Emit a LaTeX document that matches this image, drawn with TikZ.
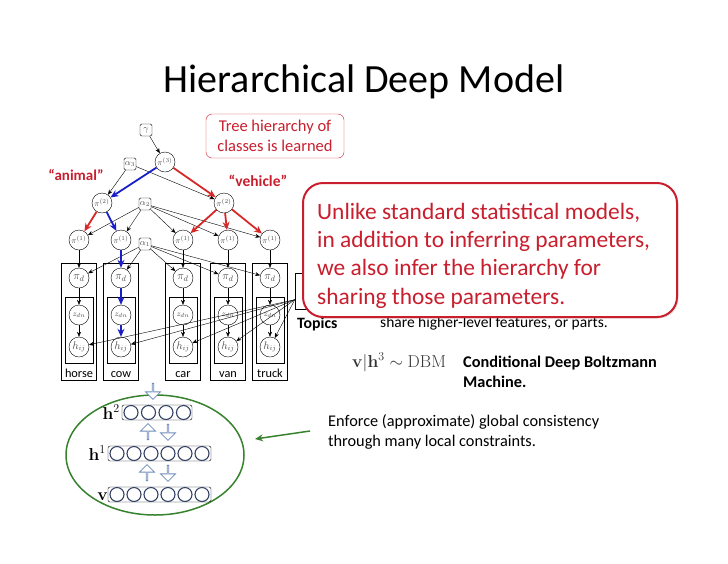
\documentclass[tikz,border=0pt]{standalone}
\usepackage[no-math]{fontspec}
\setmainfont{Carlito}
\usetikzlibrary{shapes.arrows,shapes.geometric,arrows.meta,shadows}
\definecolor{hred}{RGB}{200,30,45}
\definecolor{eblue}{RGB}{25,30,200}
\definecolor{ered}{RGB}{215,40,40}
\definecolor{dgreen}{RGB}{55,130,45}
\definecolor{dbmc}{RGB}{50,65,100}
\definecolor{arrc}{RGB}{110,140,185}
\tikzset{
  var/.style={circle,draw,thin,minimum size=20pt,inner sep=0pt,font=\fontsize{8.5}{8.5}\selectfont,text=black!70},
  parbox/.style={rectangle,draw,rounded corners=1.5pt,minimum size=12pt,inner sep=0.5pt,font=\fontsize{9}{9}\selectfont,text=black!70},
  edge/.style={-{Stealth[length=5pt,width=4pt]},thin},
  redge/.style={-{Stealth[length=8pt,width=7pt]},line width=1.8pt,ered},
  bedge/.style={-{Stealth[length=8pt,width=7pt]},line width=1.8pt,eblue},
  plate/.style={draw,thin,rectangle,inner sep=0pt},
  lbl/.style={font=\fontsize{12.3}{12.3}\selectfont,anchor=base},
  unit/.style={circle,draw=dbmc,line width=1.1pt,minimum size=14pt,inner sep=0pt},
  layer/.style={draw,rounded corners=2pt,thin,minimum height=15pt,inner sep=0pt},
  barrow/.style={single arrow,draw=arrc,fill=white,line width=0.8pt,minimum height=16pt,minimum width=15pt,single arrow head extend=3.5pt,inner sep=0pt},
  body/.style={font=\fontsize{16.3}{20}\selectfont,anchor=base west,inner sep=0pt}
}
\begin{document}
\begin{tikzpicture}[x=1pt,y=-1pt]
\useasboundingbox (0,0) rectangle (728,563);
% title
\node[anchor=base,font=\fontsize{40}{40}\selectfont] (title) at (364,92) {Hierarchical Deep Model};
% tree hierarchy label
\node[draw=hred,rounded corners=6pt,thin,minimum width=138pt,minimum height=44pt] (treebox) at (275,136) {};
\node[anchor=base,text=hred,font=\fontsize{16.5}{19.5}\selectfont,align=center,inner sep=0pt] (treetxt) at (275,151) {Tree hierarchy of\\classes is learned};
\node[anchor=base,text=hred,font=\bfseries\fontsize{15}{15}\selectfont] (animal) at (76,180) {``animal''};
\node[anchor=base,text=hred,font=\bfseries\fontsize{15.5}{15.5}\selectfont] (vehicle) at (258,186) {``vehicle''};
% tree nodes
\node[parbox] (g) at (146,130) {$\gamma$};
\node[var] (p3) at (165,162) {$\pi^{(3)}$};
\node[parbox] (a3) at (130,164) {$\alpha_3$};
\node[var] (p2a) at (102,203) {$\pi^{(2)}$};
\node[var] (p2b) at (224,203) {$\pi^{(2)}$};
\node[parbox] (a2) at (145,204) {$\alpha_2$};
\node[parbox] (a1) at (145,244) {$\alpha_1$};
\foreach \i/\x/\nm in {1/79/horse,2/121/cow,3/183/car,4/228/van,5/270/truck}{
  \node[var] (p1\i) at (\x,240) {$\pi^{(1)}$};
  \node[plate,minimum width=35pt,minimum height=117pt] (op\i) at (\x,321.5) {};
  \node[plate,minimum width=28pt,minimum height=66pt] (ip\i) at (\x,330) {};
  \node[var,font=\fontsize{11}{11}\selectfont] (pd\i) at (\x,278) {$\pi_d$};
  \node[var] (z\i) at (\x,315) {$z_{dn}$};
  \node[var,font=\fontsize{10.5}{10.5}\selectfont] (h\i) at (\x,347) {$h_{ij}$};
  \node[lbl] (cl\i) at (\x,377) {\nm};
}
% black edges
\draw[edge] (g) -- (p3);
\draw[edge] (a3) -- (p2a);
\draw[edge] (a3) -- (p2b);
\foreach \i in {1,...,5}{
  \draw[edge] (a2) -- (p1\i);
  \draw[edge] (a1) -- (pd\i);
}
\foreach \i in {1,3,4,5}{
  \draw[edge] (p1\i) -- (pd\i);
  \draw[edge] (pd\i) -- (z\i);
  \draw[edge] (z\i) -- (h\i);
}
% coloured edges
\draw[bedge] (p3) -- (p2a);
\draw[redge] (p3) -- (p2b);
\draw[redge] (p2a) -- (p11);
\draw[bedge] (p2a) -- (p12);
\draw[redge] (p2b) -- (p13);
\draw[redge] (p2b) -- (p14);
\draw[redge] (p2b) -- (p15);
\draw[bedge] (p12) -- (pd2);
\draw[bedge] (pd2) -- (z2);
\draw[bedge] (z2) -- (h2);
% topics
\node[plate,minimum width=17pt,minimum height=36pt] (topics) at (303.5,291) {};
\node[anchor=base west,font=\bfseries\fontsize{15.8}{15.8}\selectfont,inner sep=0pt] (topicslbl) at (297,328) {Topics};
\foreach \i in {1,...,5}{
  \draw[edge] (topics.225) -- (h\i);
}
% partially hidden text
\node[body,font=\fontsize{15.5}{15.5}\selectfont] (share) at (380,327) {share higher-level features, or parts.};
% callout
\node[draw=hred,line width=2pt,fill=white,rounded corners=20pt,minimum width=374pt,minimum height=134pt,
      drop shadow={opacity=0.25,shadow xshift=1.5pt,shadow yshift=-1.5pt}] (callout) at (490,250) {};
\node[anchor=base west,text=hred,font=\fontsize{23.4}{28.3}\selectfont,align=left,inner sep=0pt] (callouttxt) at (317,304)
  {Unlike standard statistical models,\\in addition to inferring parameters,\\we also infer the hierarchy for\\sharing those parameters.};
% DBM text
\node[anchor=base west,inner sep=0pt,font=\fontsize{18.8}{18.8}\selectfont,text=black!80] (dbmeq) at (352,367) {$\mathbf{v}|\mathbf{h}^3\sim\mathrm{DBM}$};
\node[anchor=base west,inner sep=0pt,font=\bfseries\fontsize{16.3}{20}\selectfont,align=left] (cdbm) at (463,387) {Conditional Deep Boltzmann\\Machine.};
\node[body,align=left] (enforce) at (328,446) {Enforce (approximate) global consistency\\through many local constraints.};
% DBM
\node[ellipse,draw=dgreen,line width=1.5pt,minimum width=178pt,minimum height=120pt] (ell) at (155,455) {};
\node[layer,minimum width=70pt] (L2) at (157,412.5) {};
\node[layer,minimum width=103pt] (L1) at (159.5,453.5) {};
\node[layer,minimum width=103pt] (L0) at (159.5,494.5) {};
\foreach \k in {0,...,3}{ \node[unit] (u2\k) at (131+17.5*\k,412.5) {}; }
\foreach \k in {0,...,5}{ \node[unit] (u1\k) at (117+17*\k,453.5) {}; \node[unit] (u0\k) at (117+17*\k,494.5) {}; }
\node[anchor=base east,inner sep=0pt,font=\fontsize{17}{17}\selectfont] (lh2) at (120,419) {$\mathbf{h}^2$};
\node[anchor=base east,inner sep=0pt,font=\fontsize{17}{17}\selectfont] (lh1) at (106,460) {$\mathbf{h}^1$};
\node[anchor=base east,inner sep=0pt,font=\fontsize{17}{17}\selectfont] (lv) at (108,500) {$\mathbf{v}$};
\node[barrow,rotate=-90] (ar0) at (153,391) {};
\node[barrow,rotate=90] (ar1) at (148,432) {};
\node[barrow,rotate=-90] (ar2) at (168,432) {};
\node[barrow,rotate=90] (ar3) at (147,473) {};
\node[barrow,rotate=-90] (ar4) at (168,473) {};
% green arrow
\coordinate (gs) at (310,431);
\coordinate (ge) at (255,439);
\draw[dgreen,line width=1.5pt,-{Stealth[length=8pt,width=7pt]}] (gs) -- (ge);
\end{tikzpicture}
\end{document}
